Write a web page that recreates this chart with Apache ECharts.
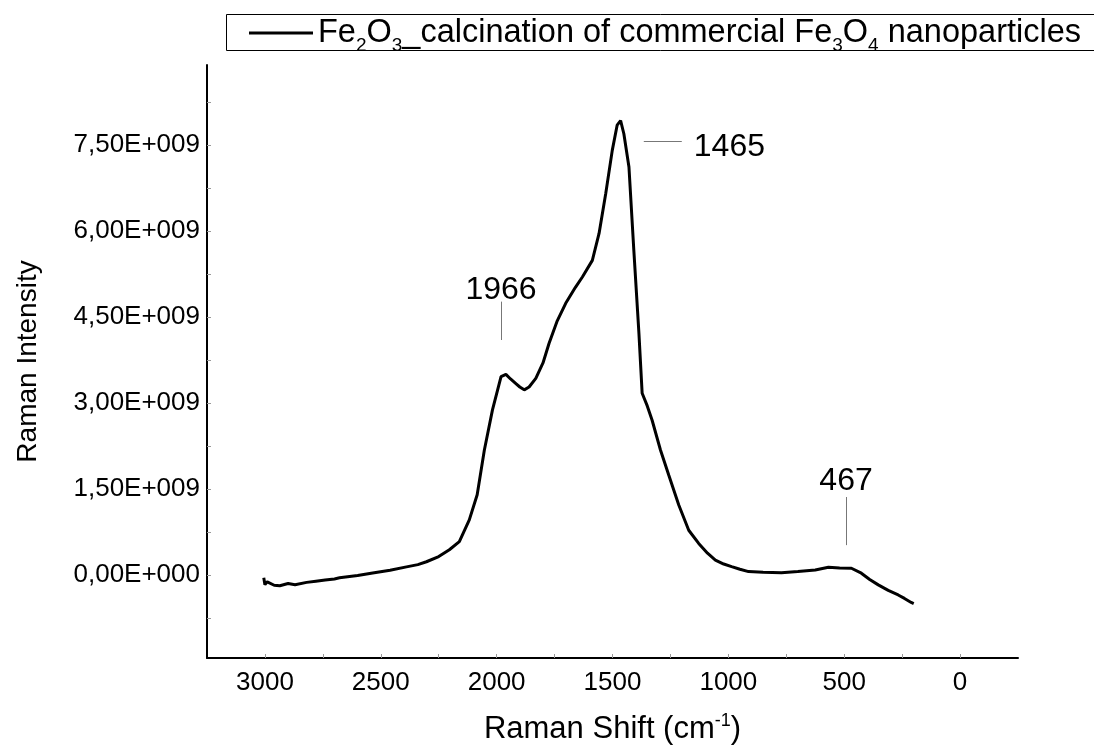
<!DOCTYPE html>
<html>
<head>
<meta charset="utf-8">
<script src="https://cdn.jsdelivr.net/npm/echarts@6/dist/echarts.min.js"></script>
<style>html,body{margin:0;padding:0;background:#fff}#c{width:1094px;height:756px}</style>
</head>
<body>
<div id="c"></div>
<script>
// Raman shift (cm-1) and intensity (a.u.)
const ramanShift = [3005, 3000, 2990, 2960, 2936, 2900, 2870, 2820, 2780, 2740, 2700, 2678, 2600, 2535, 2460, 2389, 2340, 2303, 2250, 2204, 2161, 2118, 2084, 2053, 2018, 1981, 1960, 1940, 1917, 1900, 1881, 1860, 1831, 1800, 1774, 1740, 1702, 1660, 1630, 1587, 1558, 1529, 1501, 1480, 1465, 1451, 1429, 1408, 1386, 1372, 1350, 1329, 1293, 1257, 1214, 1171, 1128, 1090, 1056, 1020, 986, 950, 913, 850, 771, 700, 625, 568, 520, 469, 426, 390, 353, 310, 267, 240, 211, 200];
const intensity = [-0.05e9, -0.17e9, -0.12e9, -0.18e9, -0.19e9, -0.15e9, -0.17e9, -0.13e9, -0.11e9, -0.09e9, -0.07e9, -0.05e9, -0.01e9, 0.035e9, 0.08e9, 0.14e9, 0.18e9, 0.23e9, 0.32e9, 0.44e9, 0.58e9, 0.96e9, 1.40e9, 2.18e9, 2.88e9, 3.46e9, 3.50e9, 3.42e9, 3.34e9, 3.28e9, 3.23e9, 3.28e9, 3.43e9, 3.70e9, 4.04e9, 4.42e9, 4.74e9, 5.02e9, 5.20e9, 5.49e9, 5.96e9, 6.66e9, 7.41e9, 7.85e9, 7.93e9, 7.70e9, 7.12e9, 5.67e9, 4.22e9, 3.17e9, 2.95e9, 2.70e9, 2.18e9, 1.74e9, 1.22e9, 0.78e9, 0.55e9, 0.38e9, 0.26e9, 0.19e9, 0.145e9, 0.10e9, 0.058e9, 0.045e9, 0.04e9, 0.06e9, 0.087e9, 0.134e9, 0.12e9, 0.117e9, 0.03e9, -0.08e9, -0.174e9, -0.27e9, -0.35e9, -0.41e9, -0.48e9, -0.50e9];

const xTickLabels = [0, 500, 1000, 1500, 2000, 2500, 3000];
const xMinorTicks = [0, 250, 500, 750, 1000, 1250, 1500, 1750, 2000, 2250, 2500, 2750, 3000];
const yTickValues = [0, 1.5e9, 3.0e9, 4.5e9, 6.0e9, 7.5e9];
const yTickLabels = ['0,00E+000', '1,50E+009', '3,00E+009', '4,50E+009', '6,00E+009', '7,50E+009'];
const yMinorTicks = [-0.75e9, 0, 0.75e9, 1.5e9, 2.25e9, 3.0e9, 3.75e9, 4.5e9, 5.25e9, 6.0e9, 6.75e9, 7.5e9, 8.25e9];

// peak annotations: label and its leader line (start, end) in data units
const peakLabels = ['1966', '1465', '467'];
const peakLines = [
  [[1981, 4.10e9], [1981, 4.77e9]],
  [[1365, 7.57e9], [1201, 7.57e9]],
  [[492, 0.52e9], [492, 1.36e9]]
];

const seriesName = 'Fe2O3_calcination of commercial Fe3O4 nanoparticles';
const FONT = "'Liberation Sans', Arial, sans-serif";

const chart = echarts.init(document.getElementById('c'), null, {renderer: 'canvas'});
const data = ramanShift.map((x, i) => [x, intensity[i]]);

chart.setOption({
  animation: false,
  backgroundColor: '#fff',
  textStyle: {fontFamily: FONT},
  grid: {left: 207, right: 76, top: 65, bottom: 98},
  graphic: [{
    type: 'rect', silent: true,
    shape: {x: 226.5, y: 14.5, width: 920, height: 36},
    style: {fill: 'none', stroke: '#000', lineWidth: 1}
  }],
  legend: {
    left: 249, top: 11,
    icon: 'rect', itemWidth: 64, itemHeight: 3,
    padding: 0,
    data: [seriesName],
    formatter: () => 'Fe{sub|2}O{sub|3}_calcination of commercial Fe{sub|3}O{sub|4} nanoparticles',
    textStyle: {
      fontFamily: FONT, fontSize: 32.5, color: '#000', lineHeight: 44,
      rich: {sub: {fontFamily: FONT, fontSize: 19, color: '#000', lineHeight: 19, padding: [25, 0, 0, 0]}}
    }
  },
  xAxis: {
    type: 'value', inverse: true, min: -250, max: 3250,
    name: 'Raman Shift (cm{sup|-1})', nameLocation: 'middle', nameGap: 54,
    nameTextStyle: {fontFamily: FONT, fontSize: 31, color: '#000',
      rich: {sup: {fontFamily: FONT, fontSize: 18, color: '#000', verticalAlign: 'top', lineHeight: 34}}},
    axisLine: {onZero: false, lineStyle: {color: '#000', width: 2}},
    axisTick: {inside: true, length: 4, lineStyle: {color: '#999', width: 1}, customValues: xMinorTicks},
    axisLabel: {customValues: xTickLabels, fontFamily: FONT, fontSize: 26, color: '#000', margin: 12,
      formatter: v => String(v)},
    splitLine: {show: false}
  },
  yAxis: {
    type: 'value', min: -1.45e9, max: 8.9e9,
    name: 'Raman Intensity', nameLocation: 'middle', nameGap: 165,
    nameTextStyle: {fontFamily: FONT, fontSize: 28, color: '#000'},
    axisLine: {show: true, onZero: false, lineStyle: {color: '#000', width: 2}},
    axisTick: {show: true, inside: true, length: 4, lineStyle: {color: '#999', width: 1}, customValues: yMinorTicks},
    axisLabel: {customValues: yTickValues, fontFamily: FONT, fontSize: 26, color: '#000', margin: 7,
      formatter: v => yTickLabels[yTickValues.indexOf(v)] ?? ''},
    splitLine: {show: false}
  },
  series: [{
    name: seriesName,
    type: 'line',
    data: data,
    showSymbol: false,
    color: '#000',
    lineStyle: {color: '#000', width: 3},
    markLine: {
      silent: true, symbol: 'none', animation: false,
      lineStyle: {color: '#777', width: 1, type: 'solid'},
      label: {show: true, position: 'end', fontFamily: FONT, fontSize: 32, color: '#000', distance: 0},
      data: peakLines.map((seg, i) => [
        {coord: seg[0]},
        {coord: seg[1], label: {formatter: peakLabels[i], distance: i === 1 ? 12 : 0,
          offset: i === 1 ? [0, 6] : (i === 0 ? [0, 5] : [0, 0])}}
      ])
    }
  }]
});
</script>
</body>
</html>
